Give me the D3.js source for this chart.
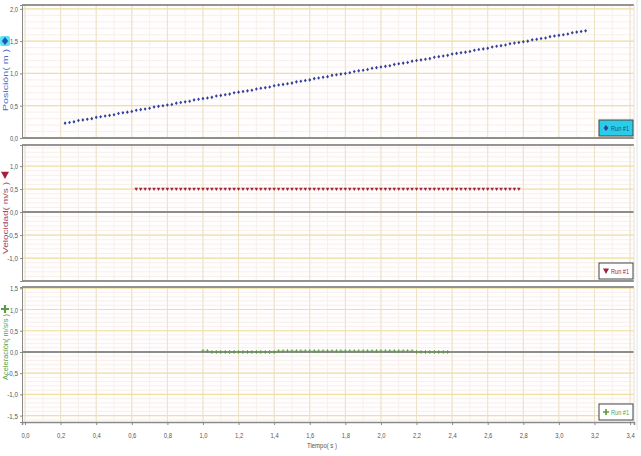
<!DOCTYPE html>
<html><head><meta charset="utf-8">
<script src="https://cdn.jsdelivr.net/npm/d3@7"></script>
<style>
html,body{margin:0;padding:0;background:#fff;}
svg{display:block;font-family:"Liberation Sans",Arial,sans-serif;}
</style></head>
<body><svg id="c" width="641" height="456"></svg>
<script>
// ---- data ----
const xTicks = [0,0.2,0.4,0.6,0.8,1.0,1.2,1.4,1.6,1.8,2.0,2.2,2.4,2.6,2.8,3.0,3.2,3.4];
const posTicks = [0,0.5,1.0,1.5,2.0];
const velTicks = [-1.0,-0.5,0,0.5,1.0];
const accTicks = [-1.5,-1.0,-0.5,0,0.5,1.0,1.5];

const posStart = 0.225, velStart = 0.625, accStart = 1.0, sampleStep = 0.025;
const position = [0.23,0.24,0.25,0.27,0.28,0.29,0.30,0.32,0.33,0.34,0.35,0.36,0.38,0.39,0.40,0.41,0.43,0.44,0.45,0.46,
0.48,0.49,0.50,0.51,0.52,0.54,0.55,0.56,0.57,0.59,0.60,0.61,0.62,0.63,0.65,0.66,0.67,0.68,0.70,0.71,
0.72,0.73,0.74,0.76,0.77,0.78,0.79,0.81,0.82,0.83,0.84,0.85,0.87,0.88,0.89,0.90,0.92,0.93,0.94,0.95,
0.97,0.98,0.99,1.00,1.01,1.03,1.04,1.05,1.06,1.08,1.09,1.10,1.11,1.12,1.14,1.15,1.16,1.17,1.19,1.20,
1.21,1.22,1.23,1.25,1.26,1.27,1.28,1.30,1.31,1.32,1.33,1.34,1.36,1.37,1.38,1.39,1.41,1.42,1.43,1.44,
1.46,1.47,1.48,1.49,1.50,1.52,1.53,1.54,1.55,1.57,1.58,1.59,1.60,1.61,1.63,1.64,1.65,1.66];
const velocity = [0.5,0.5,0.5,0.5,0.5,0.5,0.5,0.5,0.5,0.5,0.5,0.5,0.5,0.5,0.5,0.5,0.5,0.5,0.5,0.5,
0.5,0.5,0.5,0.5,0.5,0.5,0.5,0.5,0.5,0.5,0.5,0.5,0.5,0.5,0.5,0.5,0.5,0.5,0.5,0.5,
0.5,0.5,0.5,0.5,0.5,0.5,0.5,0.5,0.5,0.5,0.5,0.5,0.5,0.5,0.5,0.5,0.5,0.5,0.5,0.5,
0.5,0.5,0.5,0.5,0.5,0.5,0.5,0.5,0.5,0.5,0.5,0.5,0.5,0.5,0.5,0.5,0.5,0.5,0.5,0.5,
0.5,0.5,0.5,0.5,0.5,0.5,0.5];
const acceleration = [0.02,0.02,0,0,0,0,0,0,0,0,0,0,0,0,0,0,0,
0.02,0.02,0.02,0.02,0.02,0.02,0.02,0.02,0.02,0.02,0.02,0.02,0.02,0.02,0.02,0.02,0.02,0.02,0.02,0.02,
0.02,0.02,0.02,0.02,0.02,0.02,0.02,0.02,0.02,0.02,0.02,0,0,0,0,0,0,0,0];

const panels = [
  {name:"Posición( m )", color:"#4a68c8", mark:"#33409a", data:position, t0:posStart, domain:[0,2.06], ticks:posTicks, top:5, bottom:138, zero:false, legendFill:"#29cde8", shape:"diamond", titleY:80, symY:41, titleLen:62},
  {name:"Velocidad( m/s )", color:"#a84058", mark:"#a3203e", data:velocity, t0:velStart, domain:[-1.5,1.46], ticks:velTicks, top:145, bottom:281, zero:true, legendFill:"#ffffff", shape:"triangle", titleY:218, symY:175, titleLen:72},
  {name:"Aceleración( m/s/s )", color:"#5aa040", mark:"#5c9c44", data:acceleration, t0:accStart, domain:[-1.65,1.53], ticks:accTicks, top:287, bottom:422, zero:true, legendFill:"#ffffff", shape:"cross", titleY:347, symY:309, titleLen:66}
];

const svg = d3.select("#c");
const left = 22, right = 634;
const x = d3.scaleLinear().domain([-0.017,3.422]).range([left,right]);
const fmt = v => d3.format(".1f")(v).replace(".",",").replace("−","-");

svg.append("rect").attr("x",0).attr("y",0).attr("width",641).attr("height",456).attr("fill","#fff");
svg.append("line").attr("x1",637).attr("x2",637).attr("y1",0).attr("y2",430).attr("stroke","#e4e4e4");

panels.forEach((p,i)=>{
  const y = d3.scaleLinear().domain(p.domain).range([p.bottom,p.top]);
  const g = svg.append("g");
  g.append("rect").attr("x",left).attr("y",p.top).attr("width",right-left).attr("height",p.bottom-p.top).attr("fill","#fffdfd");
  // minor grid
  const xMinor = d3.range(0,3.45,0.1);
  g.selectAll(".xm").data(xMinor).join("line").attr("x1",d=>x(d)).attr("x2",d=>x(d)).attr("y1",p.top).attr("y2",p.bottom).attr("stroke","#f7f0ec").attr("stroke-width",1);
  const yMinor = d3.range(Math.ceil(p.domain[0]*10)/10, p.domain[1], 0.1);
  g.selectAll(".ym").data(yMinor).join("line").attr("x1",left).attr("x2",right).attr("y1",d=>y(d)).attr("y2",d=>y(d)).attr("stroke","#f7f0ec").attr("stroke-width",1);
  // major grid
  g.selectAll(".xg").data(xTicks).join("line").attr("x1",d=>x(d)).attr("x2",d=>x(d)).attr("y1",p.top).attr("y2",p.bottom).attr("stroke","#ece2c6").attr("stroke-width",1);
  g.selectAll(".yg").data(p.ticks).join("line").attr("x1",left).attr("x2",right).attr("y1",d=>y(d)).attr("y2",d=>y(d)).attr("stroke","#f0e0a0").attr("stroke-width",1.2);
  if(p.zero){
    g.append("line").attr("x1",left).attr("x2",right).attr("y1",y(0)).attr("y2",y(0)).attr("stroke","#8c8c8c").attr("stroke-width",2);
  }
  // frame
  g.append("line").attr("x1",left).attr("x2",right).attr("y1",p.top).attr("y2",p.top).attr("stroke","#707070").attr("stroke-width",1.6);
  if(i<2) g.append("line").attr("x1",left).attr("x2",right).attr("y1",p.bottom).attr("y2",p.bottom).attr("stroke","#707070").attr("stroke-width",1.6);
  g.append("line").attr("x1",right).attr("x2",right).attr("y1",p.top).attr("y2",p.bottom).attr("stroke","#e0e0e0");
  // y axis
  const ya = d3.axisLeft(y).tickValues(p.ticks).tickFormat(fmt).tickSize(2).tickPadding(2);
  const ag = g.append("g").attr("transform",`translate(${left},0)`).call(ya);
  ag.select(".domain").attr("stroke","#8a8a8a");
  ag.selectAll(".tick line").attr("stroke","#8a8a8a");
  ag.selectAll("text").attr("fill","#555").attr("font-size",8)
    .attr("textLength",function(){return this.textContent.length*2.7;}).attr("lengthAdjust","spacingAndGlyphs");
  // axis title with symbol
  g.append("text").attr("transform",`translate(8,${p.titleY}) rotate(-90)`).attr("text-anchor","middle")
    .attr("font-size",7.5).attr("fill",p.color).attr("textLength",p.titleLen).attr("lengthAdjust","spacingAndGlyphs").text(p.name);
  drawSym(g, 5, p.symY, p.shape, p.mark, 4, i===0);
  // data marks
  const pts = p.data.map((v,k)=>({t:p.t0+k*sampleStep, v}));
  pts.forEach(d=>drawSym(g, x(d.t), y(d.v), p.shape, p.mark, 1.8, false));
  // legend
  const lx = 599, lw = 34, lh = 16, ly = p.bottom - lh - 2;
  g.append("rect").attr("x",lx).attr("y",ly).attr("width",lw).attr("height",lh).attr("fill",p.legendFill).attr("stroke","#444").attr("stroke-width",1);
  drawSym(g, lx+7, ly+lh/2, p.shape, p.mark, 3, false);
  g.append("text").attr("x",lx+12).attr("y",ly+lh/2+2.5).attr("font-size",7).attr("fill",i===0?"#1d4d88":p.mark)
    .attr("textLength",18).attr("lengthAdjust","spacingAndGlyphs").text("Run #1");
});

// x axis (bottom panel)
const bp = panels[2];
const xa = d3.axisBottom(x).tickValues(xTicks).tickFormat(fmt).tickSize(3).tickPadding(7);
const xg = svg.append("g").attr("transform",`translate(0,${bp.bottom})`).call(xa);
xg.select(".domain").attr("stroke","#8a8a8a").attr("stroke-width",1.5);
xg.selectAll(".tick line").attr("stroke","#8a8a8a");
xg.selectAll("text").attr("fill","#555").attr("font-size",8)
  .attr("textLength",function(){return this.textContent.length*2.7;}).attr("lengthAdjust","spacingAndGlyphs");
svg.append("text").attr("x",322).attr("y",448).attr("text-anchor","middle").attr("font-size",7.5).attr("fill","#555")
  .attr("textLength",30).attr("lengthAdjust","spacingAndGlyphs").text("Tiempo( s )");

function drawSym(g, cx, cy, shape, color, r, halo){
  if(halo){
    g.append("rect").attr("x",cx-5).attr("y",cy-5).attr("width",10).attr("height",10).attr("rx",2).attr("fill","#5fe0f5");
  }
  if(shape==="diamond"){
    g.append("path").attr("d",`M${cx},${cy-r}L${cx+r*0.8},${cy}L${cx},${cy+r}L${cx-r*0.8},${cy}Z`).attr("fill",halo?"#1a5ab0":color);
  } else if(shape==="triangle"){
    g.append("path").attr("d",`M${cx-r},${cy-r*0.8}L${cx+r},${cy-r*0.8}L${cx},${cy+r}Z`).attr("fill",color);
  } else {
    const w = Math.max(1, r*0.55);
    g.append("path").attr("d",`M${cx-r},${cy}L${cx+r},${cy}M${cx},${cy-r}L${cx},${cy+r}`).attr("stroke",color).attr("stroke-width",w);
  }
}
</script></body></html>
